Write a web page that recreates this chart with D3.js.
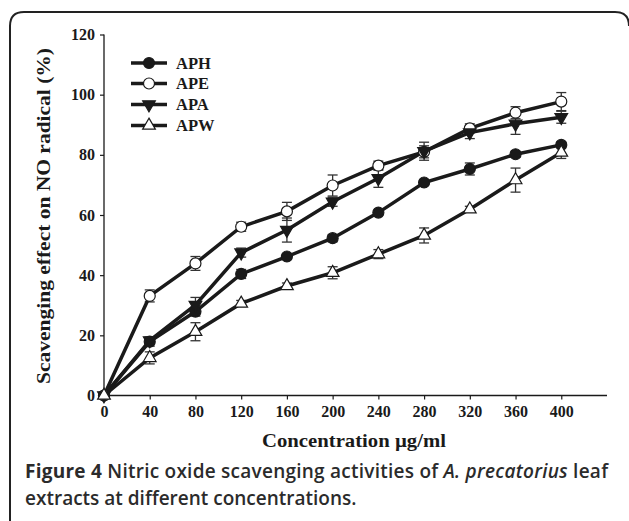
<!DOCTYPE html>
<html><head><meta charset="utf-8">
<script src="https://cdn.jsdelivr.net/npm/d3@7"></script>
<style>body{margin:0;background:#fff}svg{display:block}</style>
</head><body>
<script>
const concentrations = [0,40,80,120,160,200,240,280,320,360,400];
const seriesNames = ["APH","APE","APA","APW"];
const APH = [0,17.9,27.9,40.4,46.2,52.3,60.8,70.8,75.3,80.2,83.3];
const APE = [0,33.1,43.9,56.1,61.2,69.8,76.4,81.0,88.8,94.0,97.7];
const APA = [0,18.3,30.1,47.5,55.0,64.4,72.2,81.2,87.4,90.3,92.5];
const APW = [0,12.5,21.2,30.6,36.4,40.8,47.0,53.2,61.9,71.6,80.8];
const APH_err = [0,1.5,1.5,1.5,0.8,1.2,0.8,0.8,2,1,1];
const APE_err = [0,2,2.3,1.5,3,3.5,1.5,2,1.5,2,3];
const APA_err = [0,1,2.5,1.5,4,1.5,3,3,2,3.5,2];
const APW_err = [0,2,3,1,1,2,1.5,2.5,1,4,2];
const yTicks = [0,20,40,60,80,100,120];
const xTicks = [0,40,80,120,160,200,240,280,320,360,400];

const W=629,H=521;
const svg=d3.select("body").append("svg").attr("width",W).attr("height",H);
svg.append("path").attr("d","M10,521 L10,26 Q10,12 24,12 L615,12 Q629,12 629,26")
  .attr("fill","none").attr("stroke","#222").attr("stroke-width",2);

const x=d3.scaleLinear().domain([0,440]).range([104,607]);
const y=d3.scaleLinear().domain([0,120]).range([395.5,34.5]);
const serif="'Liberation Serif','DejaVu Serif',serif";
const ink="#1a1a1a";

const xa=svg.append("g").attr("transform","translate(0,395.5)")
 .call(d3.axisBottom(x).tickValues(xTicks).tickSize(4).tickPadding(6));
const ya=svg.append("g").attr("transform","translate(104,0)")
 .call(d3.axisLeft(y).tickValues(yTicks).tickSize(4).tickPadding(5));
[xa,ya].forEach(g=>{
  g.select(".domain").attr("stroke",ink).attr("stroke-width",1.3);
  g.selectAll(".tick line").attr("stroke",ink).attr("stroke-width",1.2);
  g.selectAll("text").attr("font-family",serif).attr("font-weight","bold").attr("font-size",16).attr("fill",ink);
});
xa.select(".domain").attr("d","M104,0H607");
ya.select(".domain").attr("d","M0,395.5V34.5");

svg.append("text").attr("transform","translate(49.5,216) rotate(-90)").attr("text-anchor","middle")
 .attr("font-family",serif).attr("font-weight","bold").attr("font-size",19).attr("fill",ink)
 .attr("textLength",336).attr("lengthAdjust","spacingAndGlyphs")
 .text("Scavenging effect on NO radical (%)");
svg.append("text").attr("x",354).attr("y",447).attr("text-anchor","middle")
 .attr("font-family",serif).attr("font-weight","bold").attr("font-size",19.5).attr("fill",ink)
 .attr("textLength",184).attr("lengthAdjust","spacingAndGlyphs")
 .text("Concentration µg/ml");

const data=[
 {name:"APH",vals:APH,err:APH_err,sym:d3.symbolCircle,fill:ink,size:95},
 {name:"APE",vals:APE,err:APE_err,sym:d3.symbolCircle,fill:"#fff",size:95},
 {name:"APA",vals:APA,err:APA_err,sym:d3.symbolTriangle,fill:ink,size:70,rot:180},
 {name:"APW",vals:APW,err:APW_err,sym:d3.symbolTriangle,fill:"#fff",size:70}
];
const line=d3.line().x((d,i)=>x(concentrations[i])).y(d=>y(d));
data.forEach(s=>{
  const g=svg.append("g").attr("stroke","#333").attr("stroke-width",1.3);
  s.vals.forEach((v,i)=>{
    if(!s.err[i])return;
    const cx=x(concentrations[i]);
    g.append("line").attr("x1",cx).attr("x2",cx).attr("y1",y(v-s.err[i])).attr("y2",y(v+s.err[i]));
    [v-s.err[i],v+s.err[i]].forEach(e=>g.append("line").attr("x1",cx-5).attr("x2",cx+5).attr("y1",y(e)).attr("y2",y(e)));
  });
});
data.forEach(s=>{
  svg.append("path").datum(s.vals).attr("d",line).attr("fill","none").attr("stroke",ink).attr("stroke-width",3.5);
});
function marker(g,s,cx,cy){
  g.append("path").attr("d",d3.symbol().type(s.sym).size(s.size))
   .attr("transform",`translate(${cx},${cy})${s.rot?" rotate("+s.rot+")":""}`)
   .attr("fill",s.fill).attr("stroke",ink).attr("stroke-width",1.2);
}
data.forEach(s=>{
  const g=svg.append("g");
  s.vals.forEach((v,i)=>marker(g,s,x(concentrations[i]),y(v)));
});
const legY=[63,83.5,104.5,125.5];
data.forEach((s,i)=>{
  const g=svg.append("g");
  g.append("line").attr("x1",131).attr("x2",167).attr("y1",legY[i]).attr("y2",legY[i]).attr("stroke",ink).attr("stroke-width",3.5);
  marker(g,s,149,legY[i]);
  g.append("text").attr("x",176).attr("y",legY[i]+5.5).attr("font-family",serif).attr("font-weight","bold")
   .attr("font-size",16.5).attr("fill",ink).text(seriesNames[i]);
});
const sans="'Open Sans','Noto Sans',sans-serif";
const c1=svg.append("text").attr("x",25).attr("y",478).attr("font-family",sans).attr("font-size",19).attr("fill","#2b2b2b").attr("font-weight",600)
 .attr("textLength",583).attr("lengthAdjust","spacing");
c1.append("tspan").attr("font-weight",700).text("Figure 4 ");
c1.append("tspan").text("Nitric oxide scavenging activities of ");
c1.append("tspan").attr("font-style","italic").text("A. precatorius");
c1.append("tspan").text(" leaf");
svg.append("text").attr("x",25).attr("y",505).attr("font-family",sans).attr("font-size",19).attr("fill","#2b2b2b").attr("font-weight",600)
 .text("extracts at different concentrations.");
</script>
</body></html>
